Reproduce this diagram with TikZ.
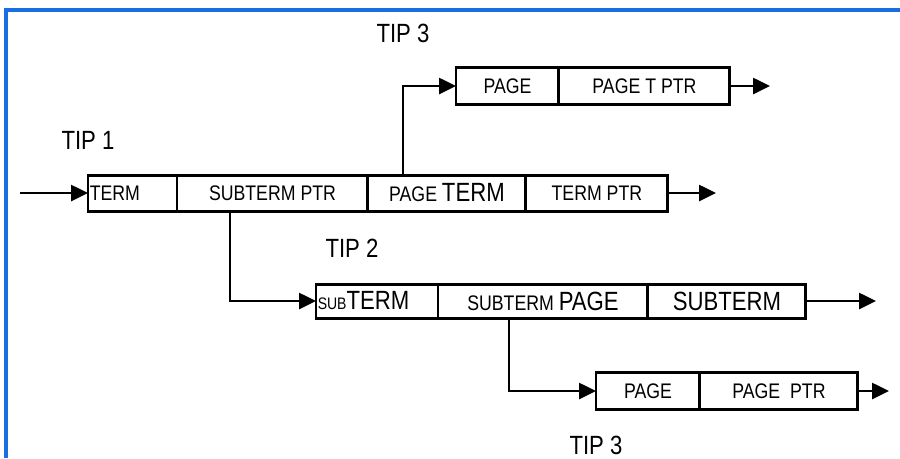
\documentclass[tikz,border=0pt]{standalone}
\usepackage{fontspec}
\setmainfont{Liberation Sans}[FakeStretch=0.84]
\usetikzlibrary{arrows.meta,positioning,calc}
\definecolor{frameblue}{HTML}{1A6FE0}
\newcommand{\smtxt}[1]{{\fontsize{9.5}{10}\selectfont #1}}
\newcommand{\bigtxt}[1]{{\fontsize{15}{16}\selectfont #1}}
\tikzset{
  cell/.style={draw=black, line width=1.7pt, outer sep=0pt, inner sep=1pt, minimum height=7.2mm, font=\fontsize{12}{13}\selectfont},
  arrow/.style={-{Triangle[length=3.4mm,width=3.2mm]}, line width=1.5pt},
  tiplabel/.style={font=\fontsize{15}{16}\selectfont}
}

\begin{document}
\begin{tikzpicture}[x=0.02cm, y=-0.02cm]
  \useasboundingbox (0,0) rectangle (900,458);
  \draw[frameblue, line width=2pt] (6,458) -- (6,10) -- (900,10);

  % tip 1
  \node[cell, minimum width=1.78cm, text width=1.71cm, align=left, anchor=west] (term) at (88,193) {TERM};
  \node[cell, minimum width=3.82cm, right=0pt of term] (subptr) {SUBTERM PTR};
  \node[cell, minimum width=3.16cm, right=0pt of subptr] (pgterm) {PAGE \bigtxt{TERM}};
  \node[cell, minimum width=2.84cm, right=0pt of pgterm] (termptr) {TERM PTR};

  % tip 3 (upper)
  \node[cell, minimum width=2.06cm, minimum height=7.4mm, anchor=west] (pg1) at (456,86) {PAGE};
  \node[cell, minimum width=3.42cm, minimum height=7.4mm, right=0pt of pg1] (pgtptr) {PAGE T PTR};

  % tip 2
  \node[cell, minimum width=2.44cm, minimum height=6.8mm, text width=2.37cm, align=left, anchor=west] (subterm) at (316,301) {\smtxt{SUB}\bigtxt{TERM}};
  \node[cell, minimum width=4.2cm, minimum height=6.8mm, right=0pt of subterm] (stpage) {SUBTERM \bigtxt{PAGE}};
  \node[cell, minimum width=3.16cm, minimum height=6.8mm, right=0pt of stpage] (subterm2) {\bigtxt{SUBTERM}};

  % tip 3 (lower)
  \node[cell, minimum width=2.08cm, minimum height=7.4mm, anchor=west] (pg2) at (596,391) {PAGE};
  \node[cell, minimum width=3.16cm, minimum height=7.4mm, right=0pt of pg2] (pgptr) {PAGE\ \ PTR};

  \node[tiplabel] (tip1) at (88,140) {TIP 1};
  \node[tiplabel] (tip2) at (352,248) {TIP 2};
  \node[tiplabel] (tip3a) at (403,33) {TIP 3};
  \node[tiplabel] (tip3b) at (596,445) {TIP 3};

  \coordinate (in) at (20,193);
  \coordinate (out1) at (716,193);
  \coordinate (out2) at (770,86);
  \coordinate (out3) at (876,301);
  \coordinate (out4) at (889,391);

  \draw[arrow] (in) -- (term);
  \draw[arrow] (termptr) -- (out1);
  \draw[arrow] ($(pgterm.north west)+(35,0)$) |- (pg1);
  \draw[arrow] (pgtptr) -- (out2);
  \draw[arrow] ($(subptr.south west)+(53,0)$) |- (subterm);
  \draw[arrow] (subterm2) -- (out3);
  \draw[arrow] ($(stpage.south west)+(71,0)$) |- (pg2);
  \draw[arrow] (pgptr) -- (out4);
\end{tikzpicture}
\end{document}
